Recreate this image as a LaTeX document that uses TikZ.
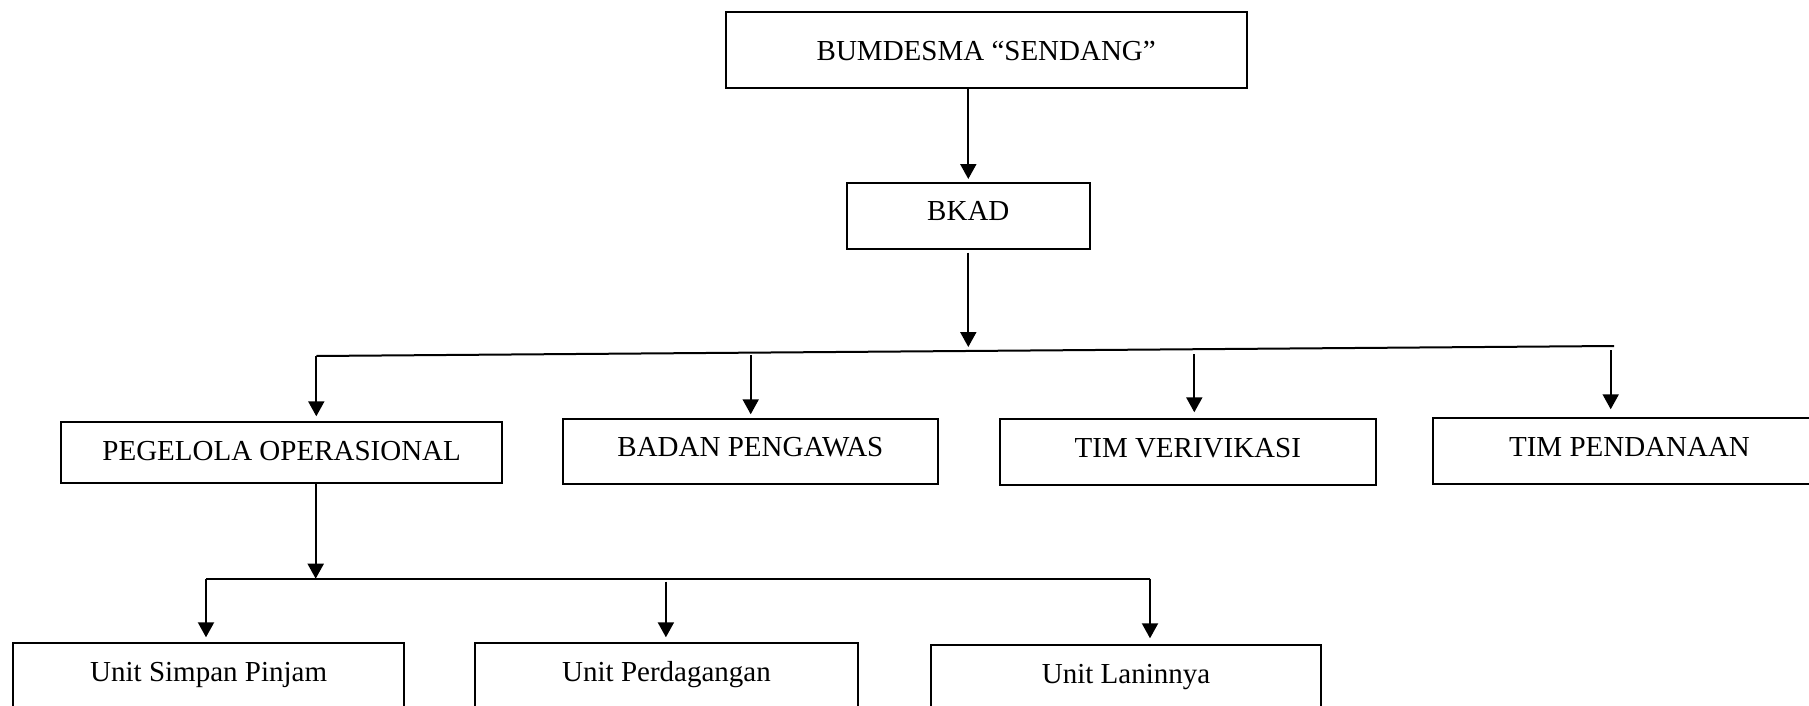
\documentclass[tikz,border=0pt]{standalone}
\usepackage{fontspec}
\setmainfont{Liberation Serif}
\usetikzlibrary{arrows.meta}
\begin{document}
\begin{tikzpicture}[x=0.5pt,y=-0.5pt,
  box/.style={draw, line width=1pt, inner sep=0pt, anchor=base,
    font=\fontsize{14.5}{17}\selectfont},
  conn/.style={line width=1pt},
  arr/.style={conn, -{Triangle[width=8pt,length=7.5pt]}}]
\useasboundingbox (0,0) rectangle (1809,706);
\clip (0,0) rectangle (1809,706);
% boxes
\node[box, minimum width=260.25pt, text height=24.35pt, text depth=13.65pt] (bum) at (986.25,61) {BUMDESMA “SENDANG”};
\node[box, minimum width=121.3pt, text height=18.85pt, text depth=14pt] (bkad) at (968.3,220.7) {BKAD};
\node[box, minimum width=220.65pt, text height=18.85pt, text depth=11.65pt] (peg) at (281.65,460) {PEGELOLA OPERASIONAL};
\node[box, minimum width=187.5pt, text height=18.7pt, text depth=13.5pt] (bad) at (750.4,456.7) {BADAN PENGAWAS};
\node[box, minimum width=187.9pt, text height=19.2pt, text depth=13.5pt] (ver) at (1187.8,457.7) {TIM VERIVIKASI};
\node[box, minimum width=196.9pt, text height=19.2pt, text depth=13.65pt] (dana) at (1629.5,456.7) {TIM PENDANAAN};
\node[box, minimum width=195.35pt, text height=19.15pt, text depth=25pt] (usp) at (208.65,681) {Unit Simpan Pinjam};
\node[box, minimum width=191.5pt, text height=19.15pt, text depth=25pt] (dag) at (666.5,681) {Unit Perdagangan};
\node[box, minimum width=195.4pt, text height=19.3pt, text depth=25pt] (lain) at (1126,683.3) {Unit Laninnya};
% bus coordinates
\coordinate (busL) at (316.3,356);
\coordinate (busR) at (1614,346);
\coordinate (busM) at (968.3,347);
\coordinate (dBad) at (750.7,355);
\coordinate (dVer) at (1194.3,354);
\coordinate (dDana) at (1610.7,350);
\coordinate (bus2L) at (206,578.7);
\coordinate (bus2R) at (1150,578.7);
\coordinate (bus2M) at (315.7,578.7);
\coordinate (dDag) at (665.9,581.7);
% top connectors
\draw[arr, shorten >=1.5pt] (bum.south -| bkad.north) -- (bkad.north);
\draw[arr, shorten <=1.5pt] (bkad.south) -- (busM);
\draw[conn] (busL) -- (busR);
\draw[arr, shorten >=2.5pt] (busL) -- (peg.north -| busL);
\draw[arr, shorten >=2pt] (dBad) -- (bad.north -| dBad);
\draw[arr, shorten >=3pt] (dVer) -- (ver.north -| dVer);
\draw[arr, shorten >=4pt] (dDana) -- (dana.north -| dDana);
% lower connectors
\draw[arr] (peg.south -| bus2M) -- (bus2M);
\draw[conn] (bus2L) -- (bus2R);
\draw[arr, shorten >=2.2pt] (bus2L) -- (usp.north -| bus2L);
\draw[arr, shorten >=2.2pt] (dDag) -- (dag.north -| dDag);
\draw[arr, shorten >=2.7pt] (bus2R) -- (lain.north -| bus2R);
\end{tikzpicture}
\end{document}
